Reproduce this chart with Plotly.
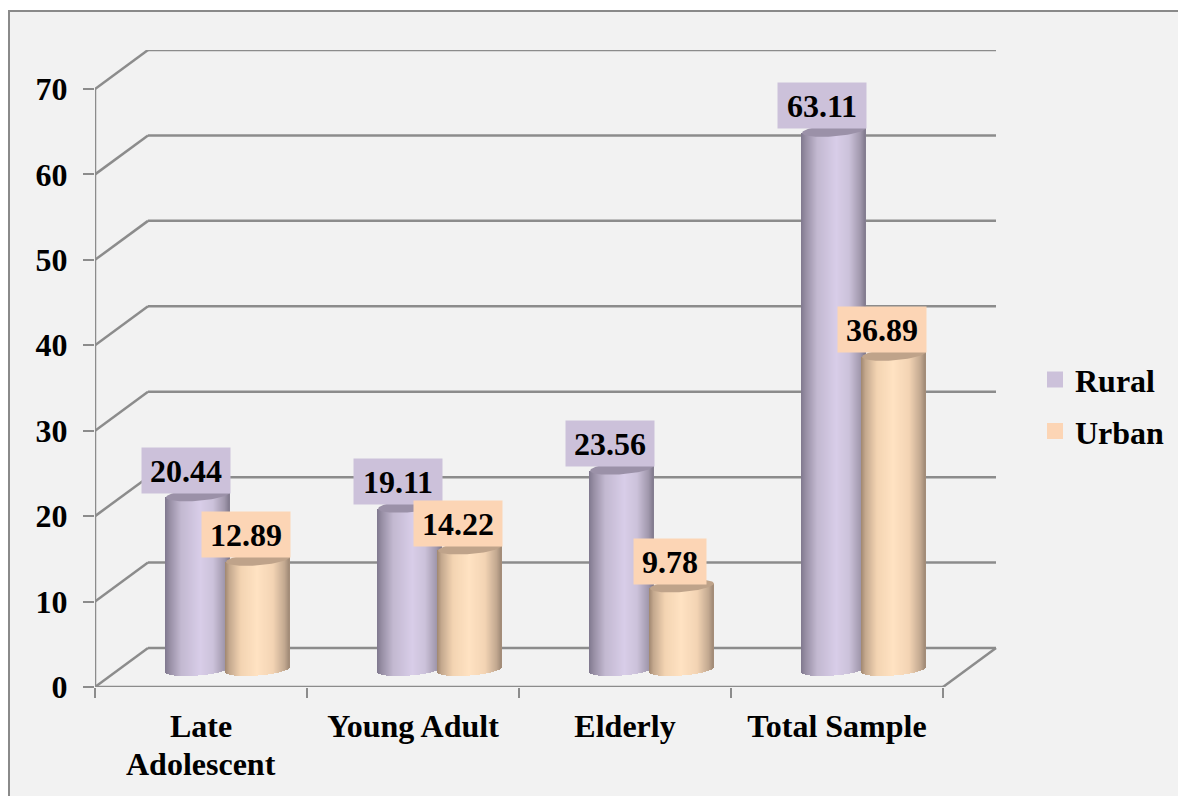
import numpy as np
import plotly.graph_objects as go

# ---- chart data ----
categories = ["Late", "Young Adult", "Elderly", "Total Sample"]
second_line = ["Adolescent", "", "", ""]
rural = [20.44, 19.11, 23.56, 63.11]
urban = [12.89, 14.22, 9.78, 36.89]
y_ticks = [0, 10, 20, 30, 40, 50, 60, 70]

# ---- page geometry (pixels) ----
W, H = 1178, 796
LEFT, RIGHT, TOP, ZERO = 95, 997, 50, 687.5
PX_PER_UNIT = 8.55      # vertical scale
PX_PER_CAT = 212        # width of one category
DEPTH_X, DEPTH_Y = 53, 39   # floor depth of the pseudo-3D box

FONT = "Liberation Serif"
SIZE = 32
LINE = "#8c8c8c"

x_max = (RIGHT - LEFT) / PX_PER_CAT
y_max = (ZERO - TOP) / PX_PER_UNIT
dx = DEPTH_X / PX_PER_CAT
dy = DEPTH_Y / PX_PER_UNIT

BASE = 17.5 / PX_PER_UNIT           # cylinders stand mid-way on the floor
CYL_W = 64 / PX_PER_CAT
RY = 6.0 / PX_PER_UNIT              # ellipse half-height
TILT = 2.5 / PX_PER_UNIT            # ellipse slant, left low and right high
STRIPS = 64

RURAL_OFFSET = -3 / PX_PER_CAT
URBAN_OFFSET = 57 / PX_PER_CAT


def blend(stops, t):
    pos = [s[0] for s in stops]
    return "rgb({},{},{})".format(
        *[int(round(np.interp(t, pos, [s[1][i] for s in stops]))) for i in range(3)]
    )


RURAL_SHADE = [(0, (128, 120, 142)), (0.07, (150, 141, 163)), (0.25, (194, 184, 208)),
               (0.55, (216, 205, 232)), (0.75, (204, 194, 218)), (0.93, (160, 151, 172)),
               (1, (130, 123, 142))]
URBAN_SHADE = [(0, (160, 135, 112)), (0.07, (196, 168, 142)), (0.25, (243, 212, 178)),
               (0.5, (255, 226, 194)), (0.75, (243, 212, 180)), (0.93, (194, 168, 144)),
               (1, (160, 138, 118))]


def cylinders(name, values, offset, shade, cap_color):
    """Shaded strips for the bodies and a filled ellipse for each top."""
    traces = []
    xs, bases, heights, colors = [], [], [], []
    step = CYL_W / STRIPS
    for i, v in enumerate(values):
        cx = i + 0.5 + offset
        for k in range(STRIPS):
            u = (k + 0.5) / STRIPS
            s = 2 * u - 1
            bottom = BASE - RY * np.sqrt(1 - s * s) + TILT * s
            xs.append(cx - CYL_W / 2 + (k + 0.5) * step)
            bases.append(bottom)
            heights.append(BASE + v + TILT * s - bottom)
            colors.append(blend(shade, u))
    traces.append(go.Bar(x=xs, y=heights, base=bases, width=step * 1.25,
                         marker=dict(color=colors, line=dict(width=0)),
                         name=name, showlegend=False, hoverinfo="skip"))
    t = np.linspace(0, 2 * np.pi, 73)
    for i, v in enumerate(values):
        cx = i + 0.5 + offset
        traces.append(go.Scatter(
            x=cx + CYL_W / 2 * np.cos(t),
            y=BASE + v + RY * np.sin(t) + TILT * np.cos(t),
            mode="lines", line=dict(width=0), fill="toself", fillcolor=cap_color,
            showlegend=False, hoverinfo="skip"))
    return traces


fig = go.Figure()
for tr in cylinders("Rural", rural, RURAL_OFFSET, RURAL_SHADE, "#9b91a8"):
    fig.add_trace(tr)
for tr in cylinders("Urban", urban, URBAN_OFFSET, URBAN_SHADE, "#bfa38a"):
    fig.add_trace(tr)

# Legend keys, one group each so the gap between them can be set
for name, color in (("Rural", "#ccc1da"), ("Urban", "#fcd5b5")):
    fig.add_trace(go.Scatter(x=[None], y=[None], mode="markers", name=name, legendgroup=name,
                             marker=dict(symbol="square", size=16, color=color)))

# Ticks at the category boundaries, on an overlaid axis without labels
fig.add_trace(go.Scatter(x=[None], y=[None], xaxis="x2", showlegend=False))


def px_x(p):
    return (p - LEFT) / (RIGHT - LEFT)


def px_y(p):
    return (ZERO - p) / (ZERO - TOP)


shapes = [dict(type="rect", xref="paper", yref="paper", layer="below",
               x0=px_x(9), x1=px_x(W + 10), y0=px_y(11), y1=px_y(H + 10),
               fillcolor="#f2f2f2", line=dict(color="#8a8a8a", width=2))]
line = dict(color=LINE, width=2.5)
n = len(categories)
for v in y_ticks:
    shapes.append(dict(type="line", layer="below", x0=0, x1=dx, y0=v, y1=v + dy, line=line))
    shapes.append(dict(type="line", layer="below", x0=dx, x1=n + dx, y0=v + dy, y1=v + dy, line=line))
shapes += [
    dict(type="line", layer="below", x0=0, x1=0, y0=0, y1=y_ticks[-1], line=line),
    dict(type="line", layer="below", x0=0, x1=n, y0=0, y1=0, line=line),
    dict(type="line", layer="below", x0=n, x1=n + dx, y0=0, y1=dy, line=line),
]

annotations = []


def value_labels(values, offset, color):
    for i, v in enumerate(values):
        text = f"{v:.2f}"
        annotations.append(dict(
            x=i + 0.5 + offset, y=BASE + v, xref="x", yref="y",
            text=text, showarrow=False, xshift=-12, yshift=24.5,
            width=88 if len(text) > 4 else 72, height=45, bgcolor=color, borderpad=0,
            font=dict(family=FONT, size=SIZE, color="black", weight="bold")))


value_labels(rural, RURAL_OFFSET, "#ccc1da")
value_labels(urban, URBAN_OFFSET, "#fcd5b5")

# Wrapped category text sits under the tick label at a tighter line spacing
for i, text in enumerate(second_line):
    if text:
        annotations.append(dict(
            x=i + 0.5, y=0, xref="x", yref="y", yanchor="top", text=text,
            showarrow=False, yshift=-57,
            font=dict(family=FONT, size=SIZE, color="black", weight="bold")))

fig.update_layout(
    width=W, height=H, autosize=False,
    margin=dict(l=LEFT, r=W - RIGHT, t=TOP, b=H - ZERO, pad=0, autoexpand=False),
    paper_bgcolor="white", plot_bgcolor="rgba(0,0,0,0)",
    barmode="overlay", bargap=0, shapes=shapes, annotations=annotations,
    font=dict(family=FONT, size=SIZE, color="black"),
    xaxis=dict(range=[0, x_max], tickmode="array",
               tickvals=[i + 0.5 for i in range(n)], ticktext=[f"<b>{c}</b>" for c in categories],
               ticks="", showgrid=False, zeroline=False, showline=False, ticklabelstandoff=17,
               tickangle=0, automargin=False, fixedrange=True),
    xaxis2=dict(range=[0, x_max], overlaying="x", side="bottom", anchor="y",
                tickmode="array", tickvals=list(range(n + 1)), ticktext=[""] * (n + 1),
                ticks="outside", ticklen=10, tickwidth=2, tickcolor=LINE,
                showgrid=False, zeroline=False, showline=False, fixedrange=True),
    yaxis=dict(range=[0, y_max], tickmode="array", tickvals=y_ticks,
               ticktext=[f"<b>{v}</b>" for v in y_ticks], ticklabelstandoff=9,
               ticks="outside", ticklen=11, tickwidth=2, tickcolor=LINE, automargin=False,
               showgrid=False, zeroline=False, showline=False, fixedrange=True),
    legend=dict(x=(1035 - LEFT) / (RIGHT - LEFT), xanchor="left",
                y=px_y(406), yanchor="middle", bgcolor="rgba(0,0,0,0)",
                font=dict(family=FONT, size=SIZE, weight="bold", color="black"),
                itemwidth=30, tracegroupgap=7),
    hovermode=False,
)

fig.write_html("out.html", config={"displayModeBar": False})
